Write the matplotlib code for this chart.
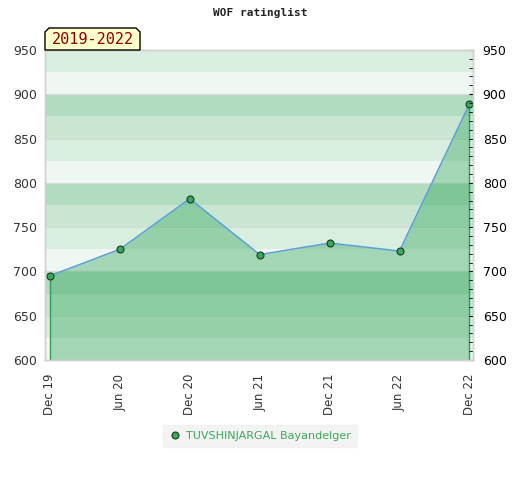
import matplotlib.pyplot as plt
from matplotlib.patches import Polygon

dates = ["Dec 19", "Jun 20", "Dec 20", "Jun 21", "Dec 21", "Jun 22", "Dec 22"]
ratings = [695, 725, 782, 719, 732, 723, 889]
player = "TUVSHINJARGAL Bayandelger"
period = "2019-2022"

band_colors = ["#eef7f1", "#daeee0", "#c8e6d2", "#b2dcc0"]

fig = plt.figure(figsize=(5.2, 4.8), dpi=100)
ax = fig.add_axes([0.0865, 0.25, 0.823, 0.646])

x = list(range(len(dates)))
ax.set_xlim(-0.07, len(dates) - 1 + 0.05)
ax.set_ylim(600, 950)

# horizontal bands every 25 points
for i, lo in enumerate(range(600, 950, 25)):
    ax.axhspan(lo, lo + 25, color=band_colors[i % 4], lw=0, zorder=0)
for y in range(600, 951, 50):
    ax.axhline(y, color="#d8d8d8", lw=0.8, zorder=0.5)

ax.fill_between(x, ratings, 600, color="#32a55a", alpha=0.4, lw=0, zorder=1)
ax.plot([x[0], x[0]], [600, ratings[0]], color="#2e9e50", lw=1, zorder=2)
ax.plot([x[-1], x[-1]], [600, ratings[-1]], color="#2e9e50", lw=1, zorder=2)
ax.plot(x, ratings, color="#5a9fd8", lw=1.1, zorder=3)
ax.plot(x, ratings, ls="none", marker="o", ms=5, mfc="#3aa85a", mec="#1a3a22",
        mew=0.8, zorder=4, label=player)

ax.set_xticks(x)
ax.set_xticklabels(dates, rotation=90, fontsize=8.5, color="#333333")
ax.tick_params(axis="x", length=0, pad=10)
ax.set_yticks(range(600, 951, 50))
ax.tick_params(axis="y", labelsize=9, colors="#333333", length=0, pad=6)

ax2 = ax.twinx()
ax2.set_ylim(600, 950)
ax2.set_yticks(range(600, 951, 50))
ax2.set_yticks(range(600, 951, 10), minor=True)
ax2.tick_params(axis="y", which="major", direction="in", length=3, labelsize=9,
                colors="black", pad=7)
ax2.tick_params(axis="y", which="minor", direction="in", length=3, colors="black")

for a in (ax, ax2):
    for s in a.spines.values():
        s.set_color("#d0d0d0")
        s.set_linewidth(1)

fig.text(0.5, 0.972, "WOF ratinglist", ha="center", va="center",
         fontsize=8, fontweight="bold", family="DejaVu Sans Mono", color="#222222")

# period tag with cut corners
x0, x1 = 45 / 520, 140 / 520
y0, y1 = 1 - 50 / 480, 1 - 28 / 480
c = 4 / 520
cy = 4 / 480
tag = Polygon([(x0, y0), (x0, y1 - cy), (x0 + c, y1), (x1 - c, y1), (x1, y1 - cy), (x1, y0)],
              closed=True, transform=fig.transFigure, fc="#ffffcc", ec="black", lw=1)
fig.patches.append(tag)
fig.text((x0 + x1) / 2, (y0 + y1) / 2 - 0.002, period, ha="center", va="center",
         fontsize=11, color="#8b0000", family="DejaVu Sans Mono")

leg = ax.legend(loc="center", bbox_to_anchor=(260 / 520, 1 - 436 / 480),
                bbox_transform=fig.transFigure, frameon=True, fontsize=8,
                handletextpad=0.4, handlelength=1.2, borderpad=0.5, fancybox=False)
leg.get_frame().set_facecolor("#f0f0f0")
leg.get_frame().set_edgecolor("#f0f0f0")
for t in leg.get_texts():
    t.set_color("#3aa85a")

fig.savefig("out.png", dpi=100)
